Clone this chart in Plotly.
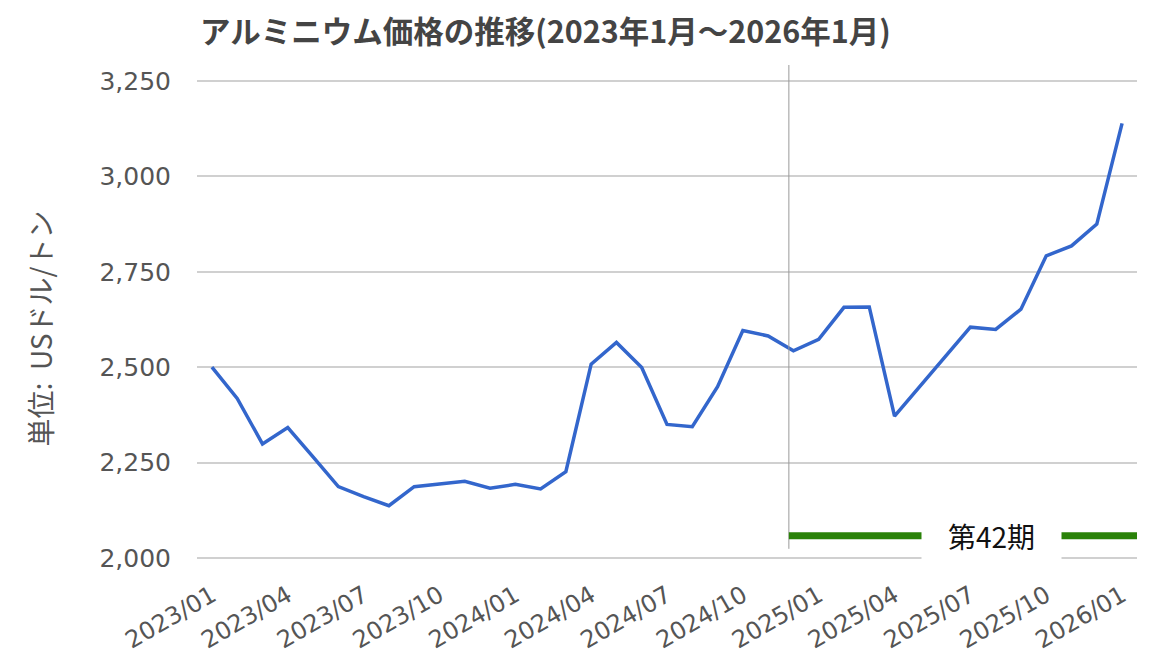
import plotly.graph_objects as go

months = [
    "2023/01", "2023/02", "2023/03", "2023/04", "2023/05", "2023/06",
    "2023/07", "2023/08", "2023/09", "2023/10", "2023/11", "2023/12",
    "2024/01", "2024/02", "2024/03", "2024/04", "2024/05", "2024/06",
    "2024/07", "2024/08", "2024/09", "2024/10", "2024/11", "2024/12",
    "2025/01", "2025/02", "2025/03", "2025/04", "2025/05", "2025/06",
    "2025/07", "2025/08", "2025/09", "2025/10", "2025/11", "2025/12",
    "2026/01",
]
price = [
    2500, 2418, 2299, 2342, 2265, 2187,
    2161, 2137, 2187, 2194, 2201, 2183,
    2193, 2181, 2226, 2508, 2565, 2499,
    2350, 2344, 2449, 2596, 2582, 2543,
    2573, 2657, 2658, 2372, 2450, 2527,
    2605, 2599, 2652, 2792, 2818, 2875,
    3139,
]
tick_labels = ["2023/01", "2023/04", "2023/07", "2023/10", "2024/01", "2024/04",
               "2024/07", "2024/10", "2025/01", "2025/04", "2025/07", "2025/10",
               "2026/01"]
y_ticks = [2000, 2250, 2500, 2750, 3000, 3250]
period_label = "第42期"
period_start = months.index("2024/12") - 0.18

x_range = [-0.59, len(months) - 1 + 0.59]
y_range = [1989.5, 3292]

# the page body has an 8px margin, so the figure is drawn 8px smaller
W, H = 1142, 648

fig = go.Figure()
fig.add_trace(go.Scatter(
    x=list(range(len(months))), y=price, mode="lines",
    line=dict(color="#3366cc", width=3.5), showlegend=False,
))

# 期の開始を示す縦線と緑のバー
fig.add_shape(type="line", xref="x", yref="y", x0=period_start, x1=period_start,
              y0=2024, y1=y_range[1], line=dict(color="#9a9a9a", width=1))
fig.add_shape(type="line", xref="x", yref="y", x0=period_start, x1=x_range[1],
              y0=2058, y1=2058, line=dict(color="#2a8209", width=7))
fig.add_annotation(text=period_label, xref="x", yref="y", x=30.85, y=2058,
                   showarrow=False, bgcolor="white", width=137, height=50,
                   font=dict(family="Noto Sans CJK JP", size=28, color="#111"))

fig.add_annotation(text="単位:  USドル/トン", xref="paper", yref="paper",
                   x=-0.167, y=0.47, xanchor="center", yanchor="middle",
                   textangle=-90, showarrow=False,
                   font=dict(family="Noto Sans CJK JP", size=28, color="#555"))

fig.update_layout(
    width=W, height=H,
    margin=dict(l=189, r=13, t=57, b=94, autoexpand=False),
    plot_bgcolor="white", paper_bgcolor="white",
    title=dict(text="<b>アルミニウム価格の推移(2023年1月～2026年1月)</b>",
               xref="container", yref="container", x=192 / W, y=1 - 24.5 / H,
               xanchor="left", yanchor="middle",
               font=dict(family="Noto Sans CJK JP", size=30.5, color="#444")),
    xaxis=dict(range=x_range, tickmode="array",
               tickvals=[months.index(t) for t in tick_labels], ticktext=tick_labels,
               tickangle=-30, showgrid=False, zeroline=False, showline=False,
               ticklabelstandoff=14, automargin=False,
               tickfont=dict(family="DejaVu Sans", size=24, color="#555")),
    yaxis=dict(range=y_range, tickmode="array", tickvals=y_ticks,
               tickformat=",d", showgrid=True, gridcolor="#d0d0d0", gridwidth=1.5,
               zeroline=False, showline=False, ticklabelstandoff=25, automargin=False,
               tickfont=dict(family="DejaVu Sans", size=25, color="#555")),
)

fig.write_html("out.html")
